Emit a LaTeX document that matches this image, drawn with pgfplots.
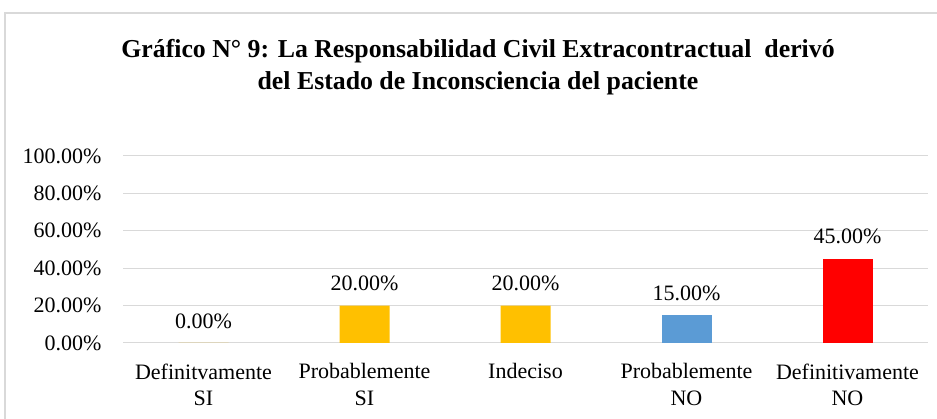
\documentclass[border=0pt]{standalone}
\usepackage{pgfplots}
\pgfplotsset{compat=1.18}
\usepackage{fontspec}
\setmainfont{Liberation Serif}
\definecolor{cyel}{HTML}{FFC000}
\definecolor{cblu}{HTML}{5B9BD5}
\definecolor{cred}{HTML}{FF0000}
\definecolor{cgrid}{HTML}{D9D9D9}
\begin{document}
\begin{tikzpicture}
\clip (0,0) rectangle (937pt,419pt);
\path[use as bounding box] (0,0) rectangle (937pt,419pt);
\draw[draw=cgrid, line width=1.2pt] (5pt,-10pt) rectangle (960pt,406pt);
\node[align=center, font=\fontsize{25.8}{32}\selectfont\bfseries] at (478pt,352pt)
  {Gráfico N° 9: La Responsabilidad Civil Extracontractual\ \ derivó\\del Estado de Inconsciencia del paciente};
\begin{axis}[
  at={(123pt,76pt)}, anchor=south west,
  scale only axis, width=805pt, height=187pt,
  xmin=-0.5, xmax=4.5, ymin=0, ymax=100,
  axis line style={draw=none},
  xmajorgrids=false, ymajorgrids=true,
  y grid style={draw=cgrid, line width=1pt},
  major tick length=0pt,
  ytick={0,20,40,60,80,100},
  yticklabels={0.00\%,20.00\%,40.00\%,60.00\%,80.00\%,100.00\%},
  yticklabel style={font=\fontsize{22}{26}\selectfont, xshift=-18pt},
  xtick={0,1,2,3,4},
  xticklabels={{Definitvamente\\SI},{Probablemente\\SI},{Indeciso},{Probablemente\\NO},{Definitivamente\\NO}},
  xticklabel style={font=\fontsize{22}{26.5}\selectfont, align=center, anchor=north, yshift=-17pt},
  ybar, bar width=50pt, bar shift=0pt,
  nodes near coords={\pgfmathprintnumber[fixed,fixed zerofill,precision=2]{\pgfplotspointmeta}\%},
  every node near coord/.append style={font=\fontsize{22}{26}\selectfont, yshift=11pt},
  /pgf/number format/assume math mode=true,
  clip=false,
]
\addplot[fill=cyel, draw=none] coordinates {(0,0) (1,20) (2,20)};
\addplot[fill=cblu, draw=none] coordinates {(3,15)};
\addplot[fill=cred, draw=none] coordinates {(4,45)};
\end{axis}
\end{tikzpicture}
\end{document}
